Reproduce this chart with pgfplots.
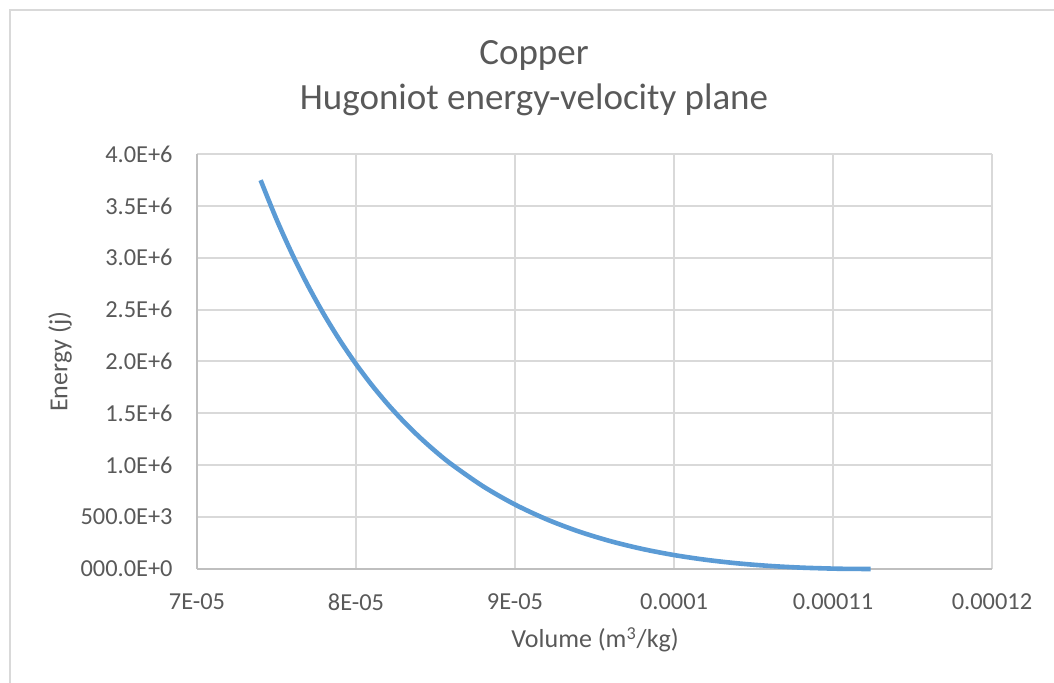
\documentclass[border=0pt]{standalone}
\usepackage{pgfplots}
\pgfplotsset{compat=1.18}
\usepackage{fontspec}
\setmainfont{Carlito}
\definecolor{txt}{HTML}{595959}
\definecolor{grd}{HTML}{D9D9D9}
\definecolor{axl}{HTML}{BFBFBF}
\definecolor{ser}{HTML}{5B9BD5}
\begin{document}
\begin{tikzpicture}
\useasboundingbox (-98.5pt,-57pt) rectangle (428.5pt,284.5pt);
\draw[grd, line width=1pt] (-93.5pt,-57pt) -- (-93.5pt,279.5pt) -- (428.5pt,279.5pt);
\begin{axis}[
  at={(0,0)}, anchor=south west,
  scale only axis, width=397.5pt, height=207.5pt,
  xmin=7e-5, xmax=1.2e-4, ymin=0, ymax=4e6,
  xtick={7e-5,8e-5,9e-5,1e-4,1.1e-4,1.2e-4},
  xticklabels={7E-05,8E-05,9E-05,0.0001,0.00011,0.00012},
  ytick={0,5e5,1e6,1.5e6,2e6,2.5e6,3e6,3.5e6,4e6},
  yticklabels={000.0E+0,500.0E+3,1.0E+6,1.5E+6,2.0E+6,2.5E+6,3.0E+6,3.5E+6,4.0E+6},
  scaled ticks=false,
  /pgf/number format/assume math mode=true,
  axis x line*=bottom, axis y line*=left,
  axis line style={axl, line width=1pt, -},
  major tick length=0pt,
  grid=major,
  major grid style={grd, line width=1pt},
  ticklabel style={font=\fontsize{12.2}{14}\selectfont, text=txt, inner sep=0pt},
  yticklabel style={anchor=east, xshift=-12pt},
  xticklabel style={anchor=north, yshift=-12pt},
  clip=false,
]
\addplot[ser, line width=2.3pt, smooth, tension=0.5] coordinates {
(7.40e-5,3747800) (7.50e-5,3370700) (7.60e-5,3031000) (7.70e-5,2725200)
(7.80e-5,2449400) (7.90e-5,2200400) (8.00e-5,1975500) (8.10e-5,1771900)
(8.20e-5,1587800) (8.30e-5,1421100) (8.40e-5,1270300) (8.50e-5,1133600)
(8.60e-5,1009700) (8.80e-5,796100) (9.00e-5,621100) (9.20e-5,478200)
(9.40e-5,362100) (9.60e-5,268400) (9.80e-5,193400) (1.00e-4,134300)
(1.02e-4,88700) (1.04e-4,54350) (1.06e-4,29660) (1.08e-4,13160)
(1.10e-4,3650) (1.11e-4,1180) (1.1236e-4,0)
};
\end{axis}
\node[anchor=base, text=txt, font=\fontsize{18.5}{22}\selectfont] at (168.5pt,252pt) {Copper};
\node[anchor=base, text=txt, font=\fontsize{18.5}{22}\selectfont] at (168.5pt,229.5pt) {Hugoniot energy-velocity plane};
\node[anchor=base, text=txt, font=\fontsize{13}{15}\selectfont] at (199pt,-39.5pt) {Volume (m\textsuperscript{3}/kg)};
\node[rotate=90, text=txt, font=\fontsize{13}{15}\selectfont] at (-68.5pt,103.75pt) {Energy (j)};
\end{tikzpicture}
\end{document}
